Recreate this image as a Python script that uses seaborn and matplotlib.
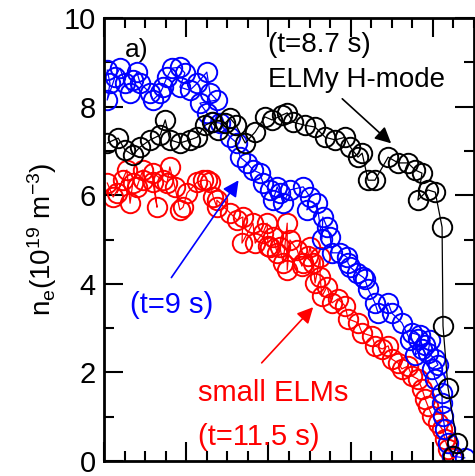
import matplotlib
matplotlib.use("Agg")
import matplotlib.pyplot as plt
from matplotlib.ticker import MultipleLocator, NullFormatter
import seaborn as sns
import pandas as pd

# ---- data (x: arbitrary radial coordinate, y: n_e in 1e19 m^-3) ----
black_x = [0.007, 0.031, 0.046, 0.063, 0.079, 0.101, 0.123, 0.134, 0.144, 0.166,
           0.188, 0.204, 0.221, 0.236, 0.250, 0.265, 0.276, 0.289, 0.309, 0.331,
           0.352, 0.368, 0.390, 0.401, 0.414, 0.440, 0.462, 0.484, 0.506, 0.528,
           0.539, 0.556, 0.565, 0.578, 0.593, 0.622, 0.644, 0.665, 0.681, 0.696,
           0.687, 0.709, 0.725, 0.740, 0.742, 0.753, 0.773, 0.764]
black_y = [7.18, 7.29, 7.02, 6.91, 7.09, 7.25, 7.36, 7.70, 7.25, 7.18,
           7.25, 7.31, 7.58, 7.65, 7.47, 7.63, 7.74, 7.58, 7.18, 7.43,
           7.77, 7.70, 7.81, 7.86, 7.65, 7.58, 7.54, 7.31, 7.25, 7.31,
           7.09, 6.86, 6.95, 6.34, 6.34, 6.86, 6.73, 6.73, 6.57, 6.50,
           5.89, 6.12, 6.07, 5.28, 3.05, 1.65, 0.41, 0.11]

blue_x = [0.007, 0.013, 0.007, 0.024, 0.035, 0.046, 0.057, 0.063, 0.072, 0.079,
          0.101, 0.107, 0.123, 0.129, 0.138, 0.149, 0.166, 0.177, 0.166, 0.188,
          0.204, 0.225, 0.232, 0.247, 0.210, 0.225, 0.239, 0.254, 0.276, 0.291,
          0.298, 0.313, 0.326, 0.341, 0.348, 0.363, 0.370, 0.379, 0.385, 0.392,
          0.407, 0.436, 0.451, 0.444, 0.466, 0.477, 0.479, 0.488, 0.495, 0.499,
          0.517, 0.532, 0.534, 0.539, 0.554, 0.567, 0.571, 0.578, 0.593, 0.600,
          0.622, 0.630, 0.652, 0.670, 0.674, 0.692, 0.687, 0.681, 0.696, 0.703,
          0.714, 0.709, 0.725, 0.731, 0.718, 0.725, 0.740, 0.740, 0.742, 0.746,
          0.753, 0.762, 0.790]
blue_y = [8.83, 8.53, 8.15, 8.67, 8.87, 8.53, 8.31, 8.60, 8.78, 8.53,
          8.31, 8.15, 8.31, 8.44, 8.67, 8.87, 8.89, 8.76, 8.44, 8.37,
          8.53, 8.78, 8.31, 8.15, 8.08, 7.86, 7.65, 7.63, 7.31, 7.18,
          6.86, 6.73, 6.57, 6.50, 6.28, 6.12, 5.89, 6.19, 6.05, 5.82,
          6.12, 6.19, 5.96, 5.67, 5.82, 5.01, 5.51, 5.28, 5.06, 4.70,
          4.70, 4.60, 4.47, 4.38, 4.24, 4.15, 4.11, 3.88, 3.57, 3.34,
          3.57, 3.34, 3.12, 2.73, 2.89, 2.84, 2.75, 2.39, 2.53, 2.62,
          2.73, 2.44, 2.30, 2.17, 2.08, 1.85, 1.53, 1.31, 1.02, 0.72,
          0.41, 0.11, 0.07]

red_x = [0.007, 0.020, 0.042, 0.028, 0.050, 0.057, 0.063, 0.072, 0.085, 0.085,
         0.107, 0.116, 0.107, 0.129, 0.138, 0.144, 0.155, 0.166, 0.173, 0.182,
         0.204, 0.217, 0.225, 0.232, 0.239, 0.247, 0.247, 0.276, 0.291, 0.304,
         0.302, 0.326, 0.331, 0.348, 0.357, 0.359, 0.363, 0.370, 0.379, 0.385,
         0.392, 0.401, 0.401, 0.407, 0.423, 0.433, 0.436, 0.447, 0.451, 0.458,
         0.462, 0.473, 0.473, 0.477, 0.488, 0.499, 0.512, 0.528, 0.534, 0.556,
         0.565, 0.587, 0.593, 0.609, 0.622, 0.630, 0.644, 0.652, 0.665, 0.674,
         0.687, 0.696, 0.703, 0.709, 0.718, 0.731, 0.740, 0.746, 0.753, 0.762]
red_y = [6.28, 5.96, 6.34, 6.05, 6.57, 5.82, 6.28, 6.19, 6.57, 6.34,
         6.30, 5.73, 6.50, 6.34, 6.28, 6.64, 6.19, 5.67, 5.73, 6.05,
         6.30, 6.34, 6.34, 6.30, 5.96, 5.73, 5.89, 5.60, 5.44, 5.51,
         4.92, 5.37, 4.92, 5.15, 5.37, 4.85, 4.83, 5.06, 4.70, 4.83,
         4.47, 5.37, 4.31, 4.99, 4.76, 4.40, 4.47, 4.63, 4.83, 4.47,
         4.02, 4.60, 4.15, 3.72, 3.93, 3.57, 3.66, 3.50, 3.21, 3.12,
         2.89, 2.82, 2.60, 2.53, 2.60, 2.30, 2.21, 2.08, 2.14, 1.92,
         1.85, 1.63, 1.40, 1.24, 1.02, 0.86, 0.72, 0.50, 0.27, 0.07]

y_ticks = [0, 2, 4, 6, 8, 10]
y_tick_labels = ["0", "2", "4", "6", "8", "10"]

# ---- figure ----
sns.set_theme(style="ticks")
plt.rcParams["font.family"] = ["Liberation Sans", "DejaVu Sans"]
plt.rcParams["mathtext.fontset"] = "custom"
plt.rcParams["mathtext.rm"] = "Liberation Sans"
plt.rcParams["mathtext.it"] = "Liberation Sans"
for k in ["text.color", "axes.labelcolor", "xtick.color", "ytick.color",
          "xtick.labelcolor", "ytick.labelcolor", "axes.edgecolor"]:
    plt.rcParams[k] = "black"

fig = plt.figure(figsize=(4.75, 4.76), dpi=100)
ax = fig.add_axes([0.219, 0.0315, 0.779, 0.9305])

def draw(xs, ys, color):
    df = pd.DataFrame({"x": xs, "y": ys})
    sns.lineplot(data=df, x="x", y="y", ax=ax, sort=False, estimator=None,
                 color=color, lw=0.9, marker="o", markersize=14,
                 markerfacecolor="none", markeredgecolor=color,
                 markeredgewidth=1.4)

draw(red_x, red_y, "#ff0000")
draw(blue_x, blue_y, "#0000ff")
draw(black_x, black_y, "black")

ax.set_xlim(0, 0.81)
ax.set_ylim(0, 10)
ax.set_xlabel("")
ax.set_ylabel(r"n$_\mathregular{e}$(10$^\mathregular{19}$ m$^\mathregular{-3}$)",
              fontsize=20, labelpad=3)

ax.xaxis.set_major_locator(MultipleLocator(0.18))
ax.xaxis.set_minor_locator(MultipleLocator(0.045))
ax.xaxis.set_major_formatter(NullFormatter())
ax.set_yticks(y_ticks)
ax.set_yticklabels(y_tick_labels)
ax.yaxis.set_minor_locator(MultipleLocator(1))
ax.tick_params(which="both", direction="in", top=True, right=True, color="black")
ax.tick_params(which="major", length=14, width=1.5, labelsize=21, pad=6)
ax.tick_params(which="minor", length=7, width=1.5)
for s in ax.spines.values():
    s.set_linewidth(2)
    s.set_color("black")

# ---- annotations ----
ax.text(0.046, 9.28, "a)", fontsize=19, va="center", ha="left")
ax.text(0.359, 9.39, "(t=8.7 s)", fontsize=20, va="center", ha="left")
ax.text(0.359, 8.6, "ELMy H-mode", fontsize=20, va="center", ha="left")
ax.annotate("", xy=(0.633, 7.13), xytext=(0.517, 8.22),
            arrowprops=dict(arrowstyle="-|>", color="black", lw=1.2, mutation_scale=24))

ax.text(0.057, 3.52, "(t=9 s)", fontsize=21, va="center", ha="left", color="#0000ff")
ax.annotate("", xy=(0.298, 6.39), xytext=(0.144, 4.09),
            arrowprops=dict(arrowstyle="-|>", color="#0000ff", lw=1.2, mutation_scale=24))

ax.text(0.206, 1.53, "small ELMs", fontsize=21, va="center", ha="left", color="#ff0000")
ax.text(0.206, 0.54, "(t=11.5 s)", fontsize=21, va="center", ha="left", color="#ff0000")
ax.annotate("", xy=(0.462, 3.52), xytext=(0.341, 2.17),
            arrowprops=dict(arrowstyle="-|>", color="#ff0000", lw=1.2, mutation_scale=24))

fig.savefig("out.png", dpi=100)
